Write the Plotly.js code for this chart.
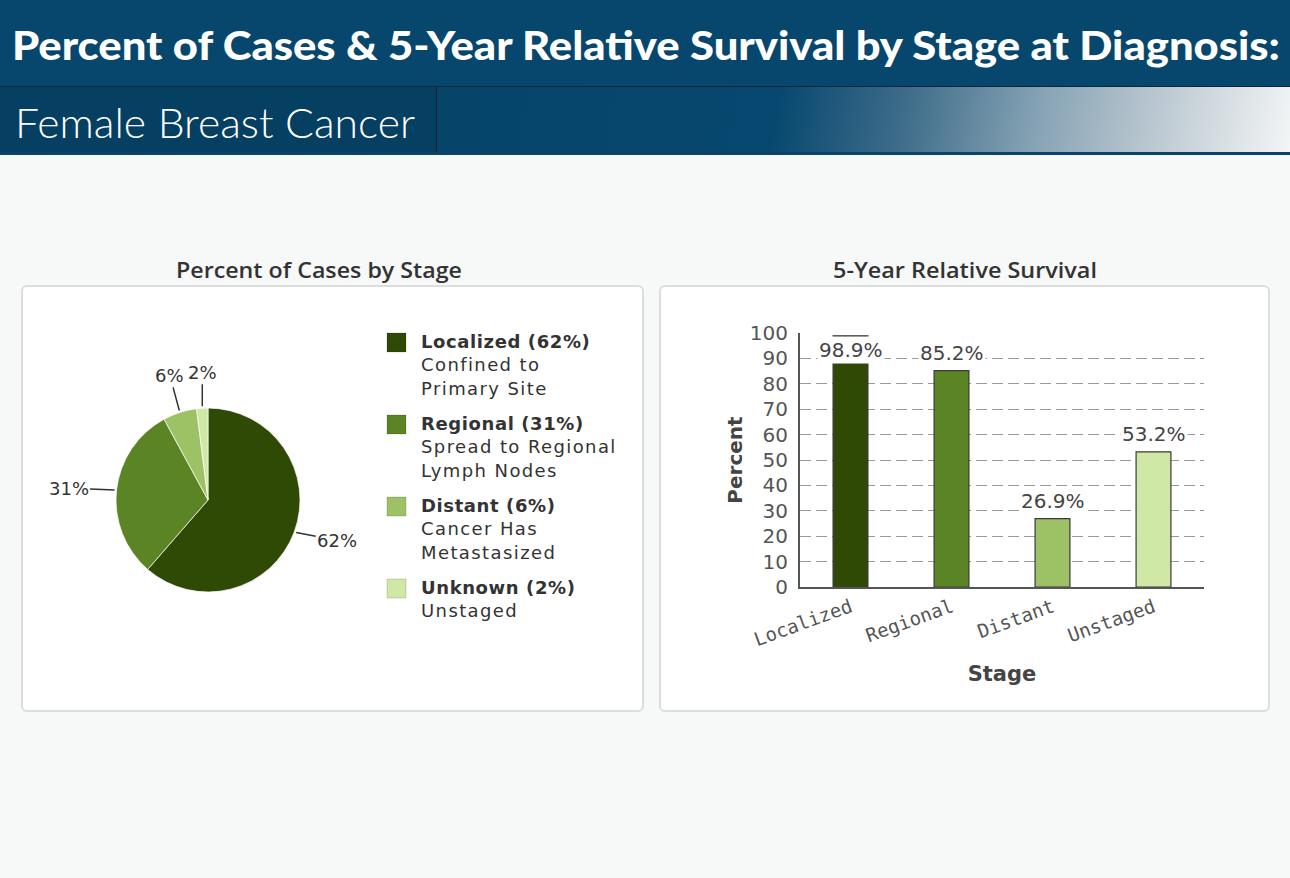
<!DOCTYPE html>
<html>
<head>
<meta charset="utf-8">
<script src="https://cdn.plot.ly/plotly-3.0.1.min.js"></script>
<style>
  html, body { margin:0; padding:0; }
  body { width:1290px; height:878px; background:#f7f8f8; position:relative; overflow:hidden; }
  #band1 { position:absolute; left:0; top:0; width:1290px; height:86px; background:#07476d; }
  .fit { position:absolute; white-space:nowrap; transform-origin:0 50%; }
  #t1 { left:12px; top:0; height:86px; line-height:90px; font-family:Lato, sans-serif; font-weight:900; font-size:39px; color:#fff; }
  #sep { position:absolute; left:0; top:86px; width:1290px; height:1px; background:#0c2738; }
  #band2 { position:absolute; left:0; top:87px; width:1290px; height:65px;
    background: linear-gradient(100deg, #053e60 0%, #06446a 34%, #074870 60%, #3f6d8a 70%, #85a2b4 80%, #bfcbd3 90%, #f3f5f6 100%); }
  #band2left { position:absolute; left:0; top:87px; width:436px; height:65px; background:#053f61; border-right:1px solid #0a2232; }
  #t2 { left:15px; top:87px; height:65px; line-height:71px; font-family:Lato, sans-serif; font-weight:300; font-size:41px; color:#fff; }
  #band3 { position:absolute; left:0; top:152px; width:1290px; height:3px; background:#0a4468; }
  .panel { position:absolute; background:#fff; border:2px solid #dcdede; border-radius:6px; box-sizing:border-box; }
  .ptitle { top:256px; font-family:"Open Sans", sans-serif; font-weight:600; font-size:21px; line-height:28px; color:#333; }
  .plot { position:absolute; }
</style>
</head>
<body>
<div id="band1"></div>
<div id="t1" class="fit" data-w="1268">Percent of Cases &amp; 5-Year Relative Survival by Stage at Diagnosis:</div>
<div id="sep"></div>
<div id="band2"></div>
<div id="band2left"></div>
<div id="t2" class="fit" data-w="400">Female Breast Cancer</div>
<div id="band3"></div>

<div class="ptitle fit" style="left:176px;" data-w="286">Percent of Cases by Stage</div>
<div class="ptitle fit" style="left:833px;" data-w="264">5-Year Relative Survival</div>
<div class="panel" style="left:21px; top:285px; width:623px; height:427px;"></div>
<div class="panel" style="left:659px; top:285px; width:611px; height:427px;"></div>

<div id="pie" class="plot" style="left:21px; top:285px; width:623px; height:427px;"></div>
<div id="bar" class="plot" style="left:659px; top:285px; width:611px; height:427px;"></div>

<script>
// ---- data ----
const stages = ['Localized', 'Regional', 'Distant', 'Unknown'];
const casePercents = [62, 31, 6, 2];
const stageNotes = ['Confined to<br>Primary Site', 'Spread to Regional<br>Lymph Nodes', 'Cancer Has<br>Metastasized', 'Unstaged'];
const stageColors = ['#2e4a05', '#5b8424', '#9cc265', '#cfe8a6'];

const survivalStages = ['Localized', 'Regional', 'Distant', 'Unstaged'];
const survivalPercents = [98.9, 85.2, 26.9, 53.2];
const yTickValues = [0, 10, 20, 30, 40, 50, 60, 70, 80, 90, 100];

// ---- fit header / title text widths ----
function fitAll() {
  document.querySelectorAll('.fit').forEach(el => {
    el.style.transform = 'none';
    const w = el.getBoundingClientRect().width;
    const target = +el.dataset.w;
    if (w > 0) el.style.transform = 'scaleX(' + (target / w) + ')';
  });
}
fitAll();
if (document.fonts && document.fonts.ready) document.fonts.ready.then(fitAll);

// ---- pie chart ----
const PW = 623, PH = 427;
const pieC = {x: 187, y: 215}, pieR = 92;      // layout (px within panel)
const labelOffsets = [[43, 8], [-48, -2], [-10, -37], [0, -36]]; // label placement style
const px2x = v => v / PW, px2y = v => 1 - v / PH;

const total = casePercents.reduce((a, b) => a + b, 0);
const pieAnn = [];
let cum = 0;
casePercents.forEach((v, i) => {
  const mid = (cum + v / 2) / total * 2 * Math.PI;
  cum += v;
  const tx = pieC.x + pieR * Math.sin(mid);
  const ty = pieC.y - pieR * Math.cos(mid);
  pieAnn.push({
    x: px2x(tx), y: px2y(ty), xref: 'paper', yref: 'paper',
    text: v + '%', showarrow: true, arrowhead: 0, arrowwidth: 1.5, arrowcolor: '#333',
    ax: labelOffsets[i][0], ay: labelOffsets[i][1], standoff: 2,
    font: {family: 'DejaVu Sans', size: 18, color: '#333'}
  });
});

const legX = 366, legSize = 19, legTop = 48, legStep = 82, legTextX = 398;
const legShapes = [];
stages.forEach((s, i) => {
  const top = legTop + i * legStep;
  legShapes.push({
    type: 'rect', xref: 'paper', yref: 'paper',
    x0: px2x(legX), x1: px2x(legX + legSize), y0: px2y(top + legSize), y1: px2y(top),
    fillcolor: stageColors[i], line: {color: 'rgba(0,0,0,0.15)', width: 1}
  });
  pieAnn.push({
    x: px2x(legTextX), y: px2y(top - 4), xref: 'paper', yref: 'paper',
    xanchor: 'left', yanchor: 'top', align: 'left', showarrow: false,
    text: '<span style="letter-spacing:0.6px"><b>' + s + ' (' + casePercents[i] + '%)</b></span><br>' +
          stageNotes[i].split('<br>').map(t => '<span style="letter-spacing:1.4px">' + t + '</span>').join('<br>'),
    font: {family: 'DejaVu Sans', size: 18, color: '#333'}
  });
});

Plotly.newPlot('pie', [{
  type: 'pie', values: casePercents, labels: stages, sort: false,
  direction: 'clockwise', rotation: 0, textinfo: 'none', hoverinfo: 'skip',
  marker: {colors: stageColors, line: {color: 'rgba(255,255,255,0.7)', width: 1}},
  domain: {x: [px2x(pieC.x - pieR), px2x(pieC.x + pieR)], y: [px2y(pieC.y + pieR), px2y(pieC.y - pieR)]},
  showlegend: false
}], {
  width: PW, height: PH, margin: {l: 0, r: 0, t: 0, b: 0},
  paper_bgcolor: 'rgba(0,0,0,0)', plot_bgcolor: 'rgba(0,0,0,0)',
  annotations: pieAnn, shapes: legShapes, showlegend: false
}, {staticPlot: true});

// ---- bar chart ----
const barAnn = survivalPercents.map((v, i) => {
  const inside = v > 92;
  return {
    x: survivalStages[i], y: v, xref: 'x', yref: 'y', showarrow: false,
    text: v.toFixed(1) + '%', yanchor: inside ? 'top' : 'bottom', yshift: inside ? 0 : 4,
    bgcolor: '#ffffff', borderpad: 1,
    font: {family: 'DejaVu Sans', size: 20, color: '#444'}
  };
});

Plotly.newPlot('bar', [{
  type: 'bar', x: survivalStages, y: survivalPercents,
  marker: {color: stageColors, line: {color: '#3a3a3a', width: 1.2}},
  hoverinfo: 'skip', cliponaxis: false
}], {
  width: 611, height: 427, margin: {l: 141, r: 66, t: 48, b: 125},
  paper_bgcolor: 'rgba(0,0,0,0)', plot_bgcolor: '#ffffff',
  bargap: 0.655, showlegend: false,
  xaxis: {
    type: 'category', range: [-0.5, 3.5], showline: true, linecolor: '#555', linewidth: 2,
    ticks: '', tickangle: -20, tickfont: {family: 'DejaVu Sans Mono', size: 19, color: '#555'},
    showgrid: false, automargin: false,
    title: {text: '<b>Stage</b>', font: {family: 'DejaVu Sans', size: 21, color: '#444'}, standoff: 17}
  },
  yaxis: {
    range: [0, 100], tickvals: yTickValues, showgrid: true, gridcolor: '#9a9a9a', gridwidth: 1,
    griddash: '11px,5px', showline: true, linecolor: '#555', linewidth: 2, zeroline: false,
    ticks: '', ticklabelstandoff: 6, tickfont: {family: 'DejaVu Sans', size: 20, color: '#555'},
    automargin: false,
    title: {text: '<b>Percent</b>', font: {family: 'DejaVu Sans', size: 20, color: '#444'}, standoff: 2}
  },
  annotations: barAnn
}, {staticPlot: true});
</script>
</body>
</html>
